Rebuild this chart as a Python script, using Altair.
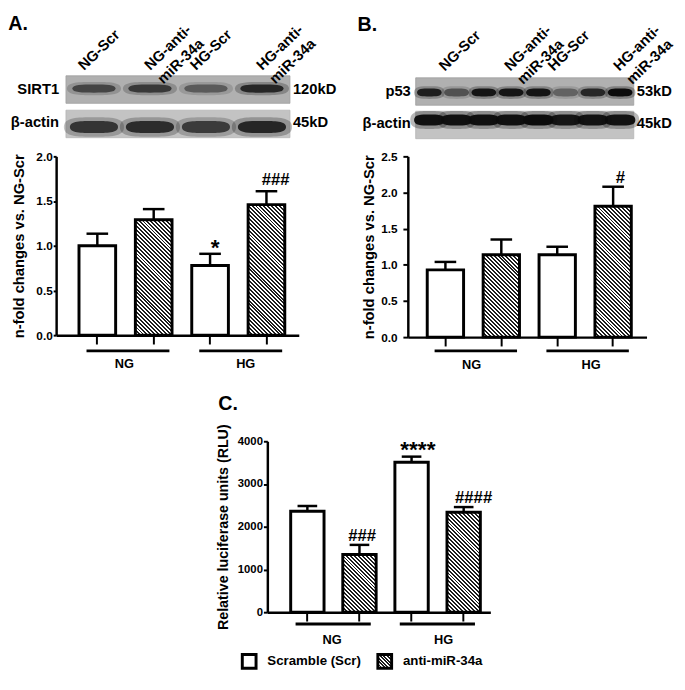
import altair as alt
import pandas as pd

# ---------------- values ----------------
groups = ["NG", "HG"]
bar_keys = ["NG-Scr", "NG-anti-miR-34a", "HG-Scr", "HG-anti-miR-34a"]
treatments = ["Scramble (Scr)", "anti-miR-34a"]
bar_treat = ["Scramble (Scr)", "anti-miR-34a", "Scramble (Scr)", "anti-miR-34a"]
lane_labels = ["NG-Scr", "NG-anti-\nmiR-34a", "HG-Scr", "HG-anti-\nmiR-34a"]

a_mean = [1.00, 1.29, 0.78, 1.46]
a_sem = [0.135, 0.12, 0.13, 0.15]
a_sig = ["", "", "*", "###"]
a_title = "n-fold changes vs. NG-Scr"
a_ticks = [0.0, 0.5, 1.0, 1.5, 2.0]

b_mean = [0.93, 1.14, 1.14, 1.81]
b_sem = [0.11, 0.21, 0.11, 0.27]
b_sig = ["", "", "", "#"]
b_title = "n-fold changes vs. NG-Scr"
b_ticks = [0.0, 0.5, 1.0, 1.5, 2.0, 2.5]

c_mean = [2360, 1350, 3510, 2340]
c_sem = [125, 225, 130, 120]
c_sig = ["", "###", "****", "####"]
c_title = "Relative luciferase units (RLU)"
c_ticks = [0, 1000, 2000, 3000, 4000]

# western blot band intensities (relative darkness, 0..1)
a_blot_rows = ["SIRT1", "β-actin"]
a_blot_kd = ["120kD", "45kD"]
a_sirt1 = [0.72, 0.82, 0.55, 1.00]
a_actin = [0.88, 0.95, 0.82, 1.00]

b_blot_rows = ["p53", "β-actin"]
b_blot_kd = ["53kD", "45kD"]
b_p53 = [0.85, 0.50, 0.92, 0.92, 0.92, 0.40, 0.78, 1.00]   # two replicate bands per lane
b_actin = [0.97, 0.97, 0.97, 0.97, 1.00, 0.92, 0.95, 0.95]

FONT = "Liberation Sans"


def hatch_fill(w, h, period=4.0, frac=0.5):
    """diagonal hatch as a striped linear gradient for a w x h box"""
    r = w / h
    s = (r + 1) / (r * r + 1)
    n = max(2, int(round((w + h) / period)))
    stops = []
    for k in range(n):
        a = round(k / n, 5)
        b = round((k + frac) / n, 5)
        c = round((k + 1) / n, 5)
        stops += [
            {"offset": a, "color": "#1e1e1e"},
            {"offset": b, "color": "#1e1e1e"},
            {"offset": b, "color": "#ffffff"},
            {"offset": c, "color": "#ffffff"},
        ]
    return {"gradient": "linear", "x1": 0, "y1": 1,
            "x2": round(s * r, 5), "y2": round(1 - s, 5), "stops": stops}


def band_path(t):
    return (f"M-1,0C-1,{-t} -0.55,{-t} 0,{-t}C0.55,{-t} 1,{-t} 1,0"
            f"C1,{t} 0.55,{t} 0,{t}C-0.55,{t} -1,{t} -1,0Z")


def bars_layers(mean, sem, sig, P):
    n = len(bar_keys)
    pi, po, al, W, H, ymax = P["pi"], P["po"], P["al"], P["W"], P["H"], P["ymax"]
    step = W / (n - pi + 2 * po)
    bw = step * (1 - pi)
    x0 = (W - step * (n - pi)) * al
    c0 = x0 + bw / 2          # centre of the first bar, from the plot's left edge
    df = pd.DataFrame({"cat": bar_keys, "treat": bar_treat, "v": mean, "e": sem, "s": sig})
    df["top"] = df["v"] + df["e"]
    xs = alt.Scale(domain=bar_keys, paddingInner=pi, paddingOuter=po, align=al)
    ys = alt.Scale(domain=[0, ymax], nice=False, zero=True)
    base = alt.Chart(df)
    xn = alt.X("cat:N", scale=xs, axis=None)
    yv = alt.Y("v:Q", scale=ys, axis=None)
    yt = alt.Y("top:Q", scale=ys, axis=None)
    xaxis = alt.Axis(title=None, labels=False, ticks=True, tickSize=9, tickWidth=2,
                     tickColor="black", domainColor="black", domainWidth=2.5, grid=False,
                     orient="bottom")
    yaxis = alt.Axis(title=P["title"], values=P["ticks"], format=P["fmt"], grid=False, orient="left",
                     labelFontSize=P["lfs"], labelFontWeight="bold", labelColor="black",
                     labelPadding=P["lpad"], tickSize=P["tick"], tickWidth=2, tickColor="black",
                     domainColor="black", domainWidth=2.5, titleFontSize=P["tfs"],
                     titleFontWeight="bold", titleColor="black", titlePadding=P["tpad"])
    L = [
        base.mark_rule(color="black", strokeWidth=2.5).encode(x=xn, y=yv, y2="top:Q"),
        base.transform_filter(alt.FieldOneOfPredicate(field="treat", oneOf=[treatments[0]]))
        .mark_bar(fill="white", stroke="black", strokeWidth=3, width=bw)
        .encode(x=alt.X("cat:N", scale=xs, axis=xaxis), y=alt.Y("v:Q", scale=ys, axis=yaxis)),
    ]
    for i, k in enumerate(bar_keys):
        if bar_treat[i] == treatments[1]:
            hpx = mean[i] / ymax * H
            L.append(base.transform_filter(alt.FieldEqualPredicate(field="cat", equal=k))
                     .mark_bar(fill=hatch_fill(bw, hpx), stroke="black", strokeWidth=3, width=bw)
                     .encode(x=xn, y=yv))
    L.append(base.mark_tick(color="black", thickness=2.5, size=P["cap"], opacity=1)
             .encode(x=xn, y=yt))
    L.append(base.transform_filter("indexof(datum.s, '#') >= 0")
             .mark_text(fontSize=17, fontWeight="bold", baseline="alphabetic", dy=P["hdy"], color="black")
             .encode(x=xn, y=yt, text="s:N"))
    L.append(base.transform_filter("indexof(datum.s, '*') >= 0")
             .mark_text(fontSize=23, fontWeight="bold", baseline="alphabetic", dy=P["sdy"], color="black")
             .encode(x=xn, y=yt, text="s:N"))
    gdf = pd.DataFrame({"g": groups, "start": [bar_keys[0], bar_keys[2]],
                        "end": [bar_keys[1], bar_keys[3]]})
    L.append(alt.Chart(gdf).mark_rule(color="black", strokeWidth=3, xOffset=P["lo"],
                                      x2Offset=P["hi"], yOffset=P["rdy"])
             .encode(x=alt.X("start:N", scale=xs, axis=None), x2="end:N",
                     y=alt.YDatum(0, scale=ys, axis=None)))
    L.append(alt.Chart(gdf).mark_text(fontSize=13, fontWeight="bold", baseline="middle", color="black",
                                      xOffset=step / 2 + (P["lo"] + P["hi"]) / 2,
                                      yOffset=P["ldy"])
             .encode(x=alt.X("start:N", scale=xs, axis=None),
                     y=alt.YDatum(0, scale=ys, axis=None), text="g:N"))
    tdf = pd.DataFrame({"cat": [bar_keys[0]], "t": [P["letter"]]})
    L.append(alt.Chart(tdf).mark_text(fontSize=20, fontWeight="bold", align="left",
                                      baseline="alphabetic", color="black",
                                      xOffset=P["letx"] - c0, yOffset=P["lety"])
             .encode(x=alt.X("cat:N", scale=xs, axis=None),
                     y=alt.YDatum(ymax, scale=ys, axis=None), text="t:N"))
    return L


def blot_layers(P, rows, kd, bands):
    nl = len(lane_labels)
    xs = alt.Scale(domain=[0, nl], range=P["bx"], nice=False, zero=False)
    ys = alt.Scale(domain=["labels"] + rows, range=P["by"], paddingInner=P["bpi"], paddingOuter=0)
    ystep = (P["by"][1] - P["by"][0]) / (len(rows) + 1 - P["bpi"])
    half = ystep * (1 - P["bpi"]) / 2

    def Y(f, **kw):
        return alt.Y(f, scale=ys, axis=None, **kw)

    L = []
    bgdf = pd.DataFrame({"row": rows})
    L.append(alt.Chart(bgdf).mark_rect(strokeWidth=0.8).encode(
        x=alt.XDatum(0, scale=xs, axis=None), x2=alt.X2Datum(nl), y=Y("row:N"),
        fill=alt.Fill("row:N", scale=alt.Scale(domain=rows, range=P["bg"]), legend=None),
        stroke=alt.Stroke("row:N", scale=alt.Scale(domain=rows, range=P["bord"]), legend=None)))
    for row, vals, width, t, dy in bands:
        nrep = len(vals) // nl
        recs = []
        for i, v in enumerate(vals):
            li, ri = i // nrep, i % nrep
            recs.append({"lane": lane_labels[li], "px": li + (ri + 0.5) / nrep, "row": row, "v": v})
        bdf = pd.DataFrame(recs)
        for scale_w, op_range, tt in [(1.25, [0, 0.3], t * 1.3), (1.0, [0, 1], t)]:
            L.append(alt.Chart(bdf).mark_point(shape=band_path(tt), filled=True, fill=P["band"],
                                               strokeWidth=0, size=(width * scale_w) ** 2,
                                               yOffset=dy).encode(
                x=alt.X("px:Q", scale=xs, axis=None), y=Y("row:N"),
                opacity=alt.Opacity("v:Q", scale=alt.Scale(domain=[0, 1], range=op_range), legend=None)))
    ldf = pd.DataFrame({"lane": lane_labels, "px": [i + 0.5 for i in range(nl)], "row": "labels"})
    single = [lane_labels[0], lane_labels[2]]
    double = [lane_labels[1], lane_labels[3]]
    for sel, xo in [(single, P["lx1"]), (double, P["lx2"])]:
        L.append(alt.Chart(ldf).transform_filter(alt.FieldOneOfPredicate(field="lane", oneOf=sel))
                 .mark_text(angle=316, align="left", baseline="bottom", fontSize=15, fontWeight="bold",
                            lineBreak="\n", lineHeight=19, color="black", xOffset=xo,
                            yOffset=half + P["ly"])
                 .encode(x=alt.X("px:Q", scale=xs, axis=None), y=Y("row:N"), text="lane:N"))
    rdf = pd.DataFrame({"row": rows, "kd": kd})
    L.append(alt.Chart(rdf).mark_text(align="right", baseline="middle", fontSize=15, fontWeight="bold",
                                      color="black", xOffset=P["rx"])
             .encode(x=alt.XDatum(0, scale=xs, axis=None), y=Y("row:N"), text="row:N"))
    L.append(alt.Chart(rdf).mark_text(align="left", baseline="middle", fontSize=15, fontWeight="bold",
                                      color="black", xOffset=P["kx"])
             .encode(x=alt.XDatum(nl, scale=xs, axis=None), y=Y("row:N"), text="kd:N"))
    return L


def legend_layers(P):
    ldf = pd.DataFrame({"item": treatments, "k": list(range(len(treatments))), "row": "legend"})
    xs = alt.Scale(domain=[0, len(treatments)], range=P["legx"], nice=False, zero=False)
    ys = alt.Scale(domain=["legend"], range=P["legy"], paddingInner=0, paddingOuter=0)
    xe = alt.X("k:Q", scale=xs, axis=None)
    ye = alt.Y("row:N", scale=ys, axis=None)
    side = P["sw"]
    base = alt.Chart(ldf)
    return [
        base.transform_filter(alt.FieldEqualPredicate(field="item", equal=treatments[0]))
        .mark_square(size=side * side, fill="white", stroke="black", strokeWidth=3, opacity=1,
                     xOffset=side / 2 + 1.5).encode(x=xe, y=ye),
        base.transform_filter(alt.FieldEqualPredicate(field="item", equal=treatments[1]))
        .mark_square(size=side * side, fill=hatch_fill(side, side, 3.6), stroke="black", strokeWidth=3,
                     opacity=1, xOffset=side / 2 + 1.5).encode(x=xe, y=ye),
        base.mark_text(align="left", baseline="middle", fontSize=13.5, fontWeight="bold", color="black",
                       xOffset=27).encode(x=xe, y=ye, text="item:N"),
    ]


PA = dict(W=247, H=182, ymax=2.0, ticks=a_ticks, fmt=".1f", title=a_title, pi=0.35, po=0.327, al=0.62,
          tick=3, lpad=1, tpad=10, tfs=15, lfs=12, cap=22, hdy=-6, sdy=1, lo=-11, hi=16, rdy=16, ldy=29,
          letter="A.", letx=-45, lety=-129)
PB = dict(W=243, H=184, ymax=2.5, ticks=b_ticks, fmt=".1f", title=b_title, pi=0.35, po=0.31, al=0.56,
          tick=5, lpad=6, tpad=4, tfs=15, lfs=12, cap=22, hdy=-4, sdy=1, lo=-11, hi=16, rdy=14, ldy=28,
          letter="B.", letx=-47, lety=-128)
PC = dict(W=227, H=174, ymax=4000, ticks=c_ticks, fmt="d", title=c_title, pi=0.36, po=0.32, al=0.70,
          tick=4, lpad=1, tpad=7, tfs=14.5, lfs=11.5, cap=20, hdy=-4, sdy=0, lo=-12, hi=11.5, rdy=12, ldy=28,
          letter="C.", letx=-49, lety=-32, legx=[-27, 249], legy=[215, 233], sw=14)

BA = dict(bx=[10, 238], by=[-117, -19], bpi=0.2, bg=["#b0b0b0", "#c3c3c3"], bord=["#a0a0a0", "#b5b5b5"],
          band="#262626", lx1=-8, lx2=2.5, ly=2, rx=-7, kx=3)
BB = dict(bx=[8, 230], by=[-114, -18], bpi=0.18, bg=["#e4e4e4", "#e6e6e6"], bord=["#d6d6d6", "#d8d8d8"],
          band="#0c0c0c", lx1=4, lx2=15, ly=0, rx=-5, kx=3)

RES = dict(x="independent", y="independent", opacity="independent")

panelA = alt.layer(
    *bars_layers(a_mean, a_sem, a_sig, PA),
    *blot_layers(BA, a_blot_rows, a_blot_kd,
                 [("SIRT1", a_sirt1, 44, 0.19, -1), ("β-actin", a_actin, 49, 0.25, 5.5)]),
).resolve_scale(**RES).properties(width=PA["W"], height=PA["H"])

panelB = alt.layer(
    *bars_layers(b_mean, b_sem, b_sig, PB),
    *blot_layers(BB, b_blot_rows, b_blot_kd,
                 [("p53", b_p53, 25, 0.32, 1), ("β-actin", b_actin, 31, 0.36, -3)]),
).resolve_scale(**RES).properties(width=PB["W"], height=PB["H"])

panelC = alt.layer(
    *bars_layers(c_mean, c_sem, c_sig, PC),
    *legend_layers(PC),
).resolve_scale(**RES).properties(width=PC["W"], height=PC["H"])

spacer = alt.Chart(pd.DataFrame({"s": [0]})).mark_point(opacity=0, size=1).encode(
    x=alt.X("s:Q", axis=None, scale=alt.Scale(domain=[0, 1])),
    y=alt.Y("s:Q", axis=None, scale=alt.Scale(domain=[0, 1])),
).properties(width=1, height=1)

chart = alt.vconcat(
    alt.hconcat(panelA, panelB, spacing=20),
    alt.hconcat(spacer, panelC, spacing=161),
    spacing=23,
    padding=0,
).configure(font=FONT).configure_view(stroke=None).configure_axis(grid=False)

chart.save("out.html", embed_options={"renderer": "svg", "actions": False})
